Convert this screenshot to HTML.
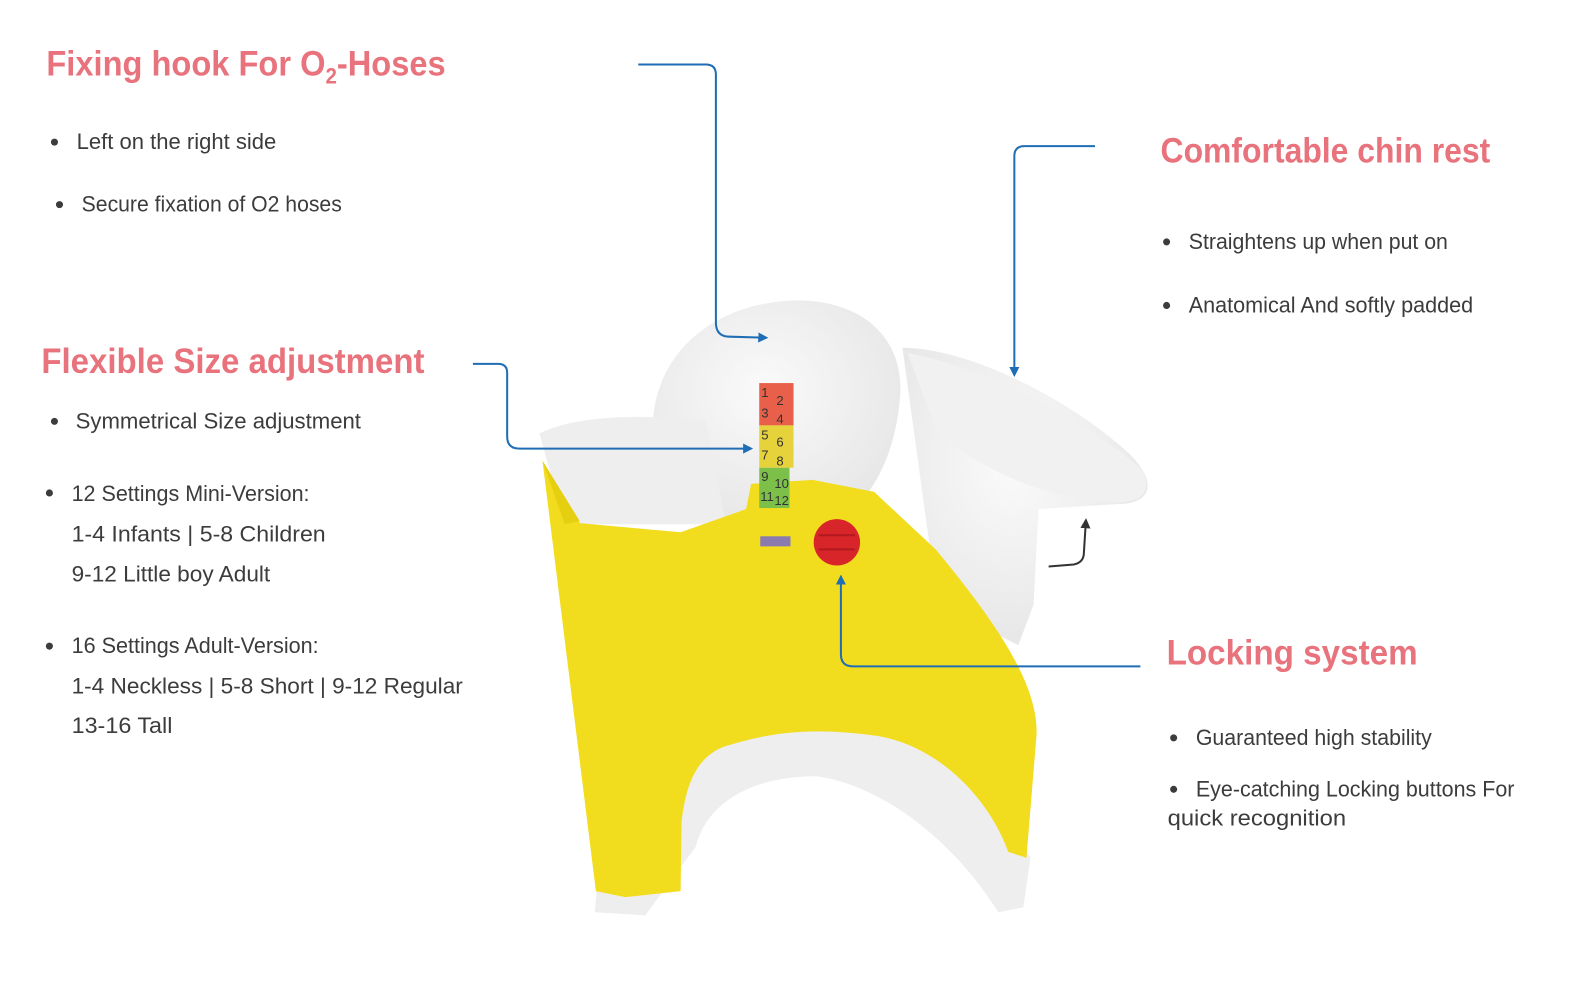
<!DOCTYPE html>
<html><head><meta charset="utf-8"><style>
html,body{margin:0;padding:0;background:#fff;}
svg{display:block}
.t{font-family:"Liberation Sans Narrow","Liberation Sans",sans-serif;fill:#e8737d;font-weight:bold;font-size:35px}
.b{font-family:"Liberation Sans Narrow","Liberation Sans",sans-serif;fill:#3c3c3c;font-size:22px}
.d{fill:#3c3c3c}
</style></head><body>
<svg width="1581" height="1000" viewBox="0 0 1568 992" preserveAspectRatio="none" xmlns="http://www.w3.org/2000/svg">
<defs>
<marker id="a" markerWidth="10" markerHeight="10" refX="8" refY="5" orient="auto" markerUnits="userSpaceOnUse"><path d="M0,0 L10,5 L0,10 z" fill="#1f6db5"/></marker>
<marker id="k" markerWidth="10" markerHeight="10" refX="8" refY="5" orient="auto" markerUnits="userSpaceOnUse"><path d="M0,0 L10,5 L0,10 z" fill="#333"/></marker>
<radialGradient id="w" cx="45%" cy="40%" r="70%"><stop offset="0" stop-color="#fafafa"/><stop offset="1" stop-color="#e4e4e4"/></radialGradient>
</defs>
<!-- white parts -->
<path d="M895,345 C960,345 1060,395 1120,450 C1150,480 1140,500 1110,500 L1030,505 L1025,600 L1010,640 L930,600 Z" fill="url(#w)"/>
<path d="M900,350 C980,365 1080,420 1132,465 C1145,490 1130,500 1100,498 C1040,495 980,470 930,430 Z" fill="#f1f1f1"/>
<path d="M648,440 C640,360 700,300 790,298 C860,298 900,340 892,400 C888,440 875,470 860,490 L700,520 Z" fill="url(#w)"/>
<path d="M535,430 C570,412 640,410 700,418 L720,520 L560,520 Z" fill="#eeeeee"/>
<path d="M590,905 L600,760 L680,740 C720,700 860,700 930,745 L1022,850 L1015,900 L990,905 C950,840 880,780 810,770 C740,770 700,800 690,840 L640,908 Z" fill="#eeeeee"/>
<!-- yellow body -->
<path d="M538,457 L575,519 L675,528 L740,505 L745,480 L806,476 L867,488 L928,545 C990,620 1030,680 1028,729 L1018,851 L1000,845 C980,790 930,740 870,730 C800,720 760,728 720,740 C690,750 680,780 676,815 L675,884 L620,890 L591,884 Z" fill="#f2dc1e"/>
<path d="M538,457 L560,520 L575,517 Z" fill="#e6cf10"/>
<!-- size scale -->
<rect x="753" y="380" width="34" height="42" fill="#e8604a"/>
<rect x="753" y="422" width="34" height="42" fill="#e6d23a"/>
<rect x="753" y="464" width="30" height="40" fill="#7cc04a"/>
<g font-family="Liberation Sans Narrow,Liberation Sans,sans-serif" font-size="13" fill="#333">
<text x="755" y="394">1</text><text x="770" y="402">2</text><text x="755" y="414">3</text><text x="770" y="420">4</text>
<text x="755" y="436">5</text><text x="770" y="443">6</text><text x="755" y="456">7</text><text x="770" y="462">8</text>
<text x="755" y="477">9</text><text x="768" y="484">10</text><text x="754" y="497">11</text><text x="768" y="501">12</text>
</g>
<rect x="754" y="532" width="30" height="10" fill="#8a7ab0"/>
<circle cx="830" cy="538" r="23" fill="#d8252a"/>
<rect x="812" y="530" width="36" height="2" fill="#b01a1e"/><rect x="812" y="544" width="36" height="2" fill="#b01a1e"/>
<!-- connectors -->
<g fill="none" stroke="#1f6db5" stroke-width="2">
<path d="M633,64 L700,64 Q710,64 710,74 L710,320 Q710,334 724,334 L760,335" marker-end="url(#a)"/>
<path d="M1086,145 L1016,145 Q1006,145 1006,155 L1006,372" marker-end="url(#a)"/>
<path d="M469,361 L494,361 Q503,361 503,370 L503,433 Q503,445 515,445 L745,445" marker-end="url(#a)"/>
<path d="M1131,661 L846,661 Q834,661 834,649 L834,572" marker-end="url(#a)"/>
</g>
<path d="M1040,562 L1065,560 Q1075,558 1075,548 L1077,516" fill="none" stroke="#333" stroke-width="2" marker-end="url(#k)"/>
<!-- texts -->
<text class="t" x="46" y="75" textLength="396" lengthAdjust="spacingAndGlyphs">Fixing hook  For  O<tspan font-size="22" dy="8">2</tspan><tspan dy="-8">-Hoses</tspan></text>
<circle class="d" cx="54" cy="141" r="3.5"/><text class="b" x="76" y="148" textLength="198" lengthAdjust="spacingAndGlyphs">Left on the right side</text>
<circle class="d" cx="59" cy="203" r="3.5"/><text class="b" x="81" y="210" textLength="258" lengthAdjust="spacingAndGlyphs">Secure fixation of O2 hoses</text>

<text class="t" x="41" y="370" textLength="380" lengthAdjust="spacingAndGlyphs">Flexible Size adjustment</text>
<circle class="d" cx="54" cy="418" r="3.5"/><text class="b" x="75" y="425" textLength="283" lengthAdjust="spacingAndGlyphs">Symmetrical  Size adjustment</text>
<circle class="d" cx="49" cy="489" r="3.5"/><text class="b" x="71" y="497" textLength="236" lengthAdjust="spacingAndGlyphs">12 Settings Mini-Version:</text>
<text class="b" x="71" y="537" textLength="252" lengthAdjust="spacingAndGlyphs">1-4 Infants |  5-8 Children</text>
<text class="b" x="71" y="577" textLength="197" lengthAdjust="spacingAndGlyphs">9-12 Little boy Adult</text>
<circle class="d" cx="49" cy="641" r="3.5"/><text class="b" x="71" y="648" textLength="245" lengthAdjust="spacingAndGlyphs">16 Settings Adult-Version:</text>
<text class="b" x="71" y="688" textLength="388" lengthAdjust="spacingAndGlyphs">1-4 Neckless | 5-8 Short | 9-12 Regular</text>
<text class="b" x="71" y="727" textLength="100" lengthAdjust="spacingAndGlyphs">13-16 Tall</text>

<text class="t" x="1151" y="161" textLength="327" lengthAdjust="spacingAndGlyphs">Comfortable chin rest</text>
<circle class="d" cx="1157" cy="240" r="3.5"/><text class="b" x="1179" y="247" textLength="257" lengthAdjust="spacingAndGlyphs">Straightens up when put on</text>
<circle class="d" cx="1157" cy="303" r="3.5"/><text class="b" x="1179" y="310" textLength="282" lengthAdjust="spacingAndGlyphs">Anatomical  And  softly padded</text>

<text class="t" x="1157" y="659" textLength="249" lengthAdjust="spacingAndGlyphs">Locking system</text>
<circle class="d" cx="1164" cy="732" r="3.5"/><text class="b" x="1186" y="739" textLength="234" lengthAdjust="spacingAndGlyphs">Guaranteed high stability</text>
<circle class="d" cx="1164" cy="783" r="3.5"/><text class="b" x="1186" y="790" textLength="316" lengthAdjust="spacingAndGlyphs">Eye-catching Locking buttons For</text>
<text class="b" x="1158" y="819" textLength="177" lengthAdjust="spacingAndGlyphs">quick recognition</text>
</svg>
</body></html>
